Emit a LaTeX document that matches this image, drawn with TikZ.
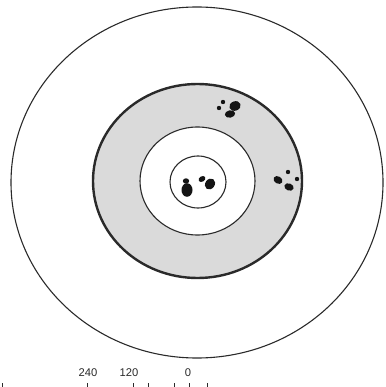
\documentclass[tikz,border=0pt]{standalone}
\usepackage{fontspec}
\setsansfont{Liberation Sans}
\usetikzlibrary{positioning}
\definecolor{ringfill}{HTML}{DADADA}
\definecolor{inkline}{HTML}{2A2A2A}
\definecolor{holefill}{HTML}{141414}
\tikzset{
  ringline/.style = {draw=inkline, line width=1.1pt},
  bandline/.style = {draw=inkline, line width=2.4pt, fill=ringfill},
  hole/.style     = {fill=holefill, draw=none},
  scalelbl/.style = {font=\sffamily\fontsize{11.2}{13}\selectfont, text=inkline, inner sep=0pt},
  scaletick/.style= {draw=inkline, line width=0.9pt},
}

\begin{document}
\begin{tikzpicture}[x=1pt, y=-1pt]
  \useasboundingbox (0,0) rectangle (385,387);
  % target rings
  \draw[ringline] (197,182.5) ellipse [x radius=186, y radius=175.5];
  \draw[bandline] (197.5,181) ellipse [x radius=104.5, y radius=97];
  \draw[ringline, fill=white] (197.5,181) ellipse [x radius=57.5, y radius=54];
  \draw[ringline] (198,182) ellipse [x radius=28, y radius=26];
  % shot holes
  \foreach \hx/\hy/\rx/\ry/\ang in {
      186/181/3.2/2.7/0, 187/190/5.5/6.8/0,
      202/179/3.7/2.7/30, 210/184/4.7/5.8/-35,
      223/102/2.2/2.2/0, 219/108/2.2/2.2/0, 235/106/5.8/4.7/20, 230/114/5.2/3.7/10,
      288/172/2.2/2.2/0, 297/179/2.2/2.2/0, 278/180/4.8/3.6/-30, 289/187/4.8/3.6/-20}{
    \fill[hole] (\hx,\hy) ellipse [x radius=\rx, y radius=\ry, rotate=\ang];
  }
  % range scale
  \node[scalelbl] (s240) at (88,373) {240};
  \node[scalelbl] (s120) at (129,373) {120};
  \node[scalelbl] (s0)   at (188,373) {0};
  \begin{scope}
    \clip (0,0) rectangle (385,387);
    \foreach \tx in {2,87,133,148,174,189,207}{
      \draw[scaletick] (\tx,383) -- (\tx,392);
    }
  \end{scope}
\end{tikzpicture}
\end{document}
